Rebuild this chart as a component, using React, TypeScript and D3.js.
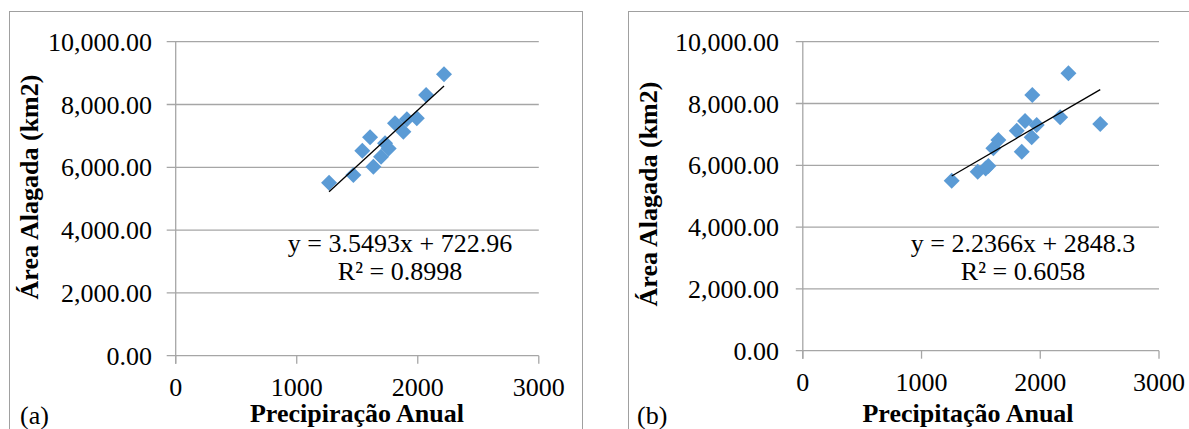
import React from "react";
import * as d3 from "d3";

// Panel (a)
const precipA = [1267, 1468, 1542, 1606, 1633, 1697, 1730, 1760, 1812, 1881, 1910, 1992, 2069, 2217];
const areaA = [5506, 5752, 6529, 6955, 6016, 6334, 6764, 6600, 7401, 7134, 7529, 7561, 8303, 8962];
// Panel (b)
const precipB = [1254, 1473, 1540, 1563, 1605, 1647, 1802, 1844, 1872, 1928, 1970, 1933, 2167, 2237, 2505];
const areaB = [5502, 5793, 5900, 5977, 6550, 6819, 7120, 6440, 7434, 6906, 7304, 8275, 7553, 8977, 7337];

const xTicks = [0, 1000, 2000, 3000];
const yTicks = [0, 2000, 4000, 6000, 8000, 10000];

const eqA = { slope: 3.5493, intercept: 722.96, label: "y = 3.5493x + 722.96", r2: "R² = 0.8998" };
const eqB = { slope: 2.2366, intercept: 2848.3, label: "y = 2.2366x + 2848.3", r2: "R² = 0.6058" };

const FONT = "'Liberation Serif', 'Times New Roman', serif";
const GRID = "#a6a6a6";

type PanelProps = {
  xs: number[];
  ys: number[];
  eq: typeof eqA;
  frame: { x: number; y: number; w: number; h: number };
  plot: { x0: number; x1: number; y0: number; y1: number };
  tickGap: number;
  labelRight: number;
  yTitleX: number;
  yTitleY: number;
  xTitle: string;
  xTitleX: number;
  eqX: number;
  tag: string;
  tagX: number;
};

function Panel(p: PanelProps) {
  const x = d3.scaleLinear().domain([0, 3000]).range([p.plot.x0, p.plot.x1]);
  const y = d3.scaleLinear().domain([0, 10000]).range([p.plot.y1, p.plot.y0]);
  const fmt = d3.format(",.2f");
  const [xmin, xmax] = d3.extent(p.xs) as [number, number];
  const line = d3.line<number>().x((v) => x(v)).y((v) => y(p.eq.slope * v + p.eq.intercept));
  const r = 8;
  return (
    <g>
      <rect x={p.frame.x} y={p.frame.y} width={p.frame.w} height={p.frame.h} fill="white" stroke="#a0a0a0" strokeWidth={1} />
      {yTicks.map((t) => (
        <g key={t}>
          <line x1={p.plot.x0 - p.tickGap} x2={p.plot.x1} y1={y(t)} y2={y(t)} stroke={GRID} strokeWidth={1.3} />
          <text x={p.labelRight} y={y(t) + 9} textAnchor="end" fontSize={26} fontFamily={FONT} fill="#000">
            {fmt(t)}
          </text>
        </g>
      ))}
      <line x1={p.plot.x0} x2={p.plot.x0} y1={p.plot.y0} y2={p.plot.y1 + 8} stroke={GRID} strokeWidth={1.3} />
      {xTicks.map((t) => (
        <g key={t}>
          <line x1={x(t)} x2={x(t)} y1={p.plot.y1} y2={p.plot.y1 + 8} stroke={GRID} strokeWidth={1.3} />
          <text x={x(t)} y={p.plot.y1 + 40} textAnchor="middle" fontSize={26} fontFamily={FONT} fill="#000">
            {t}
          </text>
        </g>
      ))}
      {p.xs.map((v, i) => {
        const cx = x(v);
        const cy = y(p.ys[i]);
        return (
          <polygon
            key={i}
            points={`${cx},${cy - r} ${cx + r},${cy} ${cx},${cy + r} ${cx - r},${cy}`}
            fill="#5b9bd5"
          />
        );
      })}
      <path d={line([xmin, xmax]) || ""} stroke="#000" strokeWidth={1.3} fill="none" />
      <text x={p.eqX} y={252} textAnchor="middle" fontSize={26} fontFamily={FONT} fill="#000">
        {p.eq.label}
      </text>
      <text x={p.eqX} y={280} textAnchor="middle" fontSize={26} fontFamily={FONT} fill="#000">
        {p.eq.r2}
      </text>
      <text
        transform={`translate(${p.yTitleX},${p.yTitleY}) rotate(-90)`}
        textAnchor="middle"
        fontSize={26}
        fontWeight="bold"
        fontFamily={FONT}
        fill="#000"
      >
        Área Alagada (km2)
      </text>
      <text x={p.xTitleX} y={422} textAnchor="middle" fontSize={26} fontWeight="bold" fontFamily={FONT} fill="#000">
        {p.xTitle}
      </text>
      <text x={p.tagX} y={424} fontSize={26} fontFamily={FONT} fill="#000">
        {p.tag}
      </text>
    </g>
  );
}

export default function App() {
  return (
    <svg
      width={1189}
      height={429}
      style={{ position: "absolute", left: 0, top: 0, display: "block", background: "white" }}
    >
      <Panel
        xs={precipA}
        ys={areaA}
        eq={eqA}
        frame={{ x: 9.5, y: 11.5, w: 573, h: 440 }}
        plot={{ x0: 175.7, x1: 538.8, y0: 41.7, y1: 355.7 }}
        tickGap={9}
        labelRight={152}
        yTitleX={38}
        yTitleY={187}
        xTitle="Precipiração Anual"
        xTitleX={357}
        eqX={400}
        tag="(a)"
        tagX={20}
      />
      <Panel
        xs={precipB}
        ys={areaB}
        eq={eqB}
        frame={{ x: 628.5, y: 11.5, w: 600, h: 440 }}
        plot={{ x0: 802.8, x1: 1159, y0: 41.7, y1: 350.7 }}
        tickGap={7}
        labelRight={779}
        yTitleX={657}
        yTitleY={194}
        xTitle="Precipitação Anual"
        xTitleX={968}
        eqX={1023}
        tag="(b)"
        tagX={637}
      />
    </svg>
  );
}
